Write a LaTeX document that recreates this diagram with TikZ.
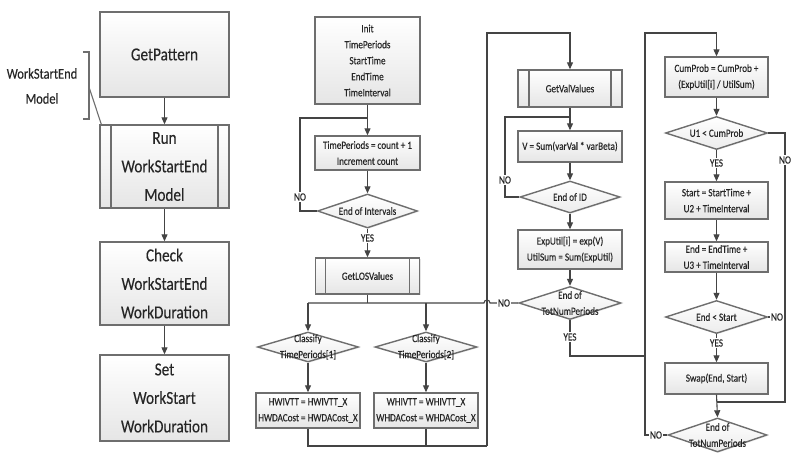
\documentclass[tikz,border=0pt]{standalone}
\usepackage{fontspec}
\setmainfont{Carlito}[FakeStretch=0.83,FakeBold=0.25]
\usetikzlibrary{arrows.meta,shapes.geometric,shadows,calc}
\definecolor{ln}{HTML}{444444}
\definecolor{bd}{HTML}{6E6E6E}
\definecolor{tx}{HTML}{262626}
\newcommand\dgBig{\fontsize{18.3}{28.5}\selectfont}
\newcommand\dgMid{\fontsize{15}{25}\selectfont}
\newcommand\dgSmall{\fontsize{11}{16}\selectfont}
\begin{document}
\begin{tikzpicture}[x=1pt,y=-1pt,
  box/.style={draw=bd, line width=1.4pt, top color=white, bottom color=gray!20,
    drop shadow={opacity=0.2,shadow xshift=1.2pt,shadow yshift=-1.2pt},
    inner sep=0pt, align=center, text=tx, font=\dgSmall},
  bigbox/.style={box, font=\dgBig},
  subproc/.style={path picture={
    \draw[bd, line width=1.1pt] ([xshift=#1]path picture bounding box.north west) -- ([xshift=#1]path picture bounding box.south west);
    \draw[bd, line width=1.1pt] ([xshift=-#1]path picture bounding box.north east) -- ([xshift=-#1]path picture bounding box.south east);}},
  dia/.style={shape=diamond, draw=bd, line width=1.4pt, top color=white, bottom color=gray!15,
    inner sep=0pt, drop shadow={opacity=0.15,shadow xshift=1pt,shadow yshift=-1pt}},
  dtext/.style={align=center, text=tx, font=\dgSmall, inner sep=0pt},
  lbl/.style={fill=white, inner sep=1pt, text=tx, font=\dgSmall},
  ln/.style={draw=ln, line width=1.1pt},
  arr/.style={ln, -{Triangle[length=7pt,width=6pt]}}
]
\fill[white] (0,0) rectangle (804,466);
\useasboundingbox (0,0) rectangle (804,466);

% ---------- left column ----------
\node[bigbox, minimum width=129pt, minimum height=85pt] (gp) at (164.5,54.5) {GetPattern};
\node[bigbox, subproc=11pt, minimum width=129pt, minimum height=83pt] (run) at (164.5,166.5) {Run\\WorkStartEnd\\Model};
\node[bigbox, minimum width=129pt, minimum height=83pt] (check) at (164.5,283.5) {Check\\WorkStartEnd\\WorkDuration};
\node[bigbox, minimum width=129pt, minimum height=86pt] (set) at (164.5,398) {Set\\WorkStart\\WorkDuration};
\node[align=center, text=tx, font=\dgMid, inner sep=0pt] (wsem) at (42,86) {WorkStartEnd\\Model};
\coordinate (bk1) at (83,52);
\coordinate (bk2) at (89,52);
\coordinate (bk3) at (89,119);
\coordinate (bk4) at (83,119);
\coordinate (bkm) at (89,87);
\draw[draw=bd, line width=1.1pt] (bk1) -- (bk2) -- (bk3) -- (bk4);
\draw[draw=bd, line width=1.1pt] (bkm) -- ([xshift=2pt]run.north west);
\draw[arr] (gp.south) -- (run.north);
\draw[arr] (run.south) -- (check.north);
\draw[arr] (check.south) -- (set.north);

% ---------- middle column ----------
\node[box, minimum width=105pt, minimum height=87pt] (init) at (367.5,60.5) {Init\\TimePeriods\\StartTime\\EndTime\\TimeInterval};
\node[box, minimum width=105pt, minimum height=34pt] (tp) at (367.5,153) {TimePeriods = count + 1\\Increment count};
\node[dia, minimum width=100pt, minimum height=34pt] (eoi) at (367.5,211) {};
\node[dtext] (eoit) at (eoi) {End of Intervals};
\node[box, subproc=10pt, minimum width=104pt, minimum height=36pt] (los) at (367.5,276) {GetLOSValues};
\node[dia, minimum width=101pt, minimum height=30pt] (c1) at (308,347) {};
\node[dtext] (c1t) at (c1) {Classify\\TimePeriods[1]};
\node[dia, minimum width=102pt, minimum height=30pt] (c2) at (426,347) {};
\node[dtext] (c2t) at (c2) {Classify\\TimePeriods[2]};
\node[box, minimum width=104pt, minimum height=35pt] (h1) at (308,410.5) {HWIVTT = HWIVTT\_X\\HWDACost = HWDACost\_X};
\node[box, minimum width=104pt, minimum height=35pt] (h2) at (426,410.5) {WHIVTT = WHIVTT\_X\\WHDACost = WHDACost\_X};

\coordinate (j1) at (367.5,118);
\draw[arr] (init.south) -- (tp.north);
\draw[ln] (eoi.west) -- (300,211) |- (j1);
\node[lbl] (no1) at (300,197) {NO};
\draw[arr] (tp.south) -- (eoi.north);
\draw[arr] (eoi.south) -- (los.north);
\node[lbl] (yes1) at (367.5,238) {YES};

% ---------- third column ----------
\node[box, subproc=11pt, minimum width=104pt, minimum height=37pt] (gv) at (570,88.5) {GetValValues};
\node[box, minimum width=104pt, minimum height=31pt] (v) at (570,146.5) {V = Sum(varVal * varBeta)};
\node[dia, minimum width=100pt, minimum height=32pt] (eid) at (570,197) {};
\node[dtext] (eidt) at (eid) {End of ID};
\node[box, minimum width=104pt, minimum height=39pt] (exp) at (570,249.5) {ExpUtil[i] = exp(V)\\UtilSum = Sum(ExpUtil)};
\node[dia, minimum width=102pt, minimum height=33pt] (etp) at (570,303) {};
\node[dtext] (etpt) at (etp) {End of\\TotNumPeriods};

% bus from GetLOSValues
\coordinate (b0) at (367.5,303);
\coordinate (bL) at (308,303);
\coordinate (bR) at (426,303);
\draw[ln] (los.south) -- (b0);
\draw[ln] (bL) -- (484,303) arc[start angle=180,end angle=360,radius=3] -- (etp.west);
\node[lbl] (no2) at (504,303) {NO};
\draw[arr] (bL) -- (c1.north);
\draw[arr] (bR) -- (c2.north);
\draw[arr] (c1.south) -- (h1.north);
\draw[arr] (c2.south) -- (h2.north);
\coordinate (lb1) at (308,446);
\coordinate (lb2) at (426,446);
\coordinate (lbR) at (487,446);
\coordinate (lt2) at (570,33);
\draw[ln] (h1.south) -- (lb1) -- (lbR);
\draw[ln] (h2.south) -- (lb2);
\draw[arr] (lbR) |- (lt2) -- (gv.north);

\coordinate (j2) at (570,117);
\draw[arr] (gv.south) -- (v.north);
\draw[ln] (eid.west) -- (505,197) |- (j2);
\node[lbl] (no3) at (505,180) {NO};
\draw[arr] (v.south) -- (eid.north);
\draw[arr] (eid.south) -- (exp.north);
\draw[arr] (exp.south) -- (etp.north);
\draw[ln] (etp.south) |- (645,356);
\node[lbl] (yes2) at (570,337) {YES};

% ---------- right column ----------
\node[box, minimum width=103pt, minimum height=40pt] (cp) at (716.5,77) {CumProb = CumProb +\\(ExpUtil[i] / UtilSum)};
\node[dia, minimum width=102pt, minimum height=33pt] (u1) at (716.5,133) {};
\node[dtext] (u1t) at (u1) {U1 < CumProb};
\node[box, minimum width=103pt, minimum height=37pt] (st) at (716.5,200.5) {Start = StartTime +\\U2 + TimeInterval};
\node[box, minimum width=103pt, minimum height=30pt] (en) at (716.5,257) {End = EndTime +\\U3 + TimeInterval};
\node[dia, minimum width=102pt, minimum height=33pt] (es) at (716.5,317) {};
\node[dtext] (est) at (es) {End < Start};
\node[box, minimum width=103pt, minimum height=31pt] (sw) at (716.5,378.5) {Swap(End, Start)};
\node[dia, minimum width=99pt, minimum height=34pt] (etp2) at (717.5,435) {};
\node[dtext] (etp2t) at (etp2) {End of\\TotNumPeriods};

\coordinate (rt) at (716.5,33);
\draw[arr] (etp2.west) -- (645,435) |- (rt) -- (cp.north);
\node[lbl] (no4) at (656,435) {NO};
\draw[arr] (cp.south) -- (u1.north);
\draw[ln] (u1.east) -- (785,133) -- (785,402) -- (716.5,402);
\node[lbl] (no5) at (785,160) {NO};
\draw[arr] (u1.south) -- (st.north);
\node[lbl] (yes3) at (716.5,163) {YES};
\draw[arr] (st.south) -- (en.north);
\draw[arr] (en.south) -- (es.north);
\draw[ln] (es.east) -- (785,317);
\node[lbl] (no6) at (777,317) {NO};
\draw[arr] (es.south) -- (sw.north);
\node[lbl] (yes4) at (716.5,343) {YES};
\draw[arr] (sw.south) -- (etp2.north);
\end{tikzpicture}
\end{document}
